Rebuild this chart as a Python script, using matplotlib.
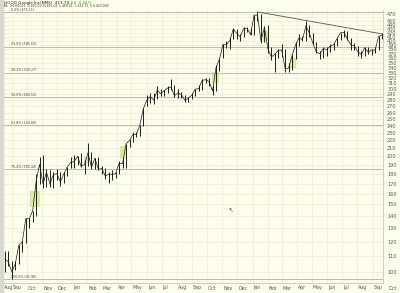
import matplotlib

matplotlib.use("Agg")
import matplotlib.pyplot as plt
import matplotlib.dates as mdates
import matplotlib.transforms as mtransforms
import pandas as pd

# weekly bars, GOOG Aug 2004 - Sep 2006 (week ending Friday)
week_end = pd.date_range("2004-08-20", "2006-09-22", freq="W-FRI")
highs = [
    113.5, 113.5, 107.0, 106.8, 117.5, 120.8, 138.0, 138.5, 144.5, 180.2,
    199.0, 201.6, 185.0, 184.0, 182.0, 185.0, 182.0, 182.0, 188.0, 199.0,
    201.6, 200.0, 204.0, 196.0, 216.8, 205.0, 198.5, 199.0, 189.0, 187.0,
    182.0, 184.0, 182.0, 194.0, 198.0, 216.0, 222.0, 231.0, 232.0, 242.0,
    266.5, 289.0, 292.0, 293.0, 304.0, 299.0, 298.0, 305.0, 317.8, 306.0,
    299.0, 294.0, 289.0, 285.0, 292.0, 300.0, 306.0, 317.0, 320.0, 320.0,
    306.0, 345.0, 361.0, 391.0, 398.0, 408.0, 431.0, 430.0, 416.0, 434.0,
    434.0, 432.0, 466.0, 475.1, 469.0, 436.0, 439.0, 385.0, 371.0, 380.0,
    391.0, 380.0, 350.0, 370.0, 396.0, 417.0, 412.0, 450.7, 440.0, 419.0,
    397.0, 377.0, 384.0, 386.0, 393.0, 395.0, 407.0, 420.0, 426.0, 425.0,
    406.0, 394.0, 388.0, 375.0, 384.0, 385.0, 381.0, 385.0, 411.0, 418.0,
]
lows = [
    99.8, 103.5, 95.96, 101.0, 105.0, 113.0, 119.0, 130.0, 135.0, 140.0,
    170.0, 166.0, 166.5, 167.0, 166.0, 174.0, 168.0, 171.0, 178.0, 187.0,
    187.0, 190.0, 188.0, 180.0, 189.0, 185.0, 186.0, 184.0, 180.0, 175.0,
    171.0, 174.0, 176.0, 180.0, 187.0, 186.5, 212.0, 218.0, 225.0, 226.0,
    240.0, 270.0, 276.0, 274.0, 282.0, 288.0, 287.0, 293.0, 298.0, 285.0,
    284.0, 283.0, 277.0, 277.0, 282.0, 287.0, 296.0, 298.0, 310.0, 304.0,
    289.0, 295.0, 334.0, 360.0, 382.0, 381.0, 404.0, 404.0, 400.0, 409.0,
    422.0, 413.0, 413.0, 451.0, 395.0, 397.0, 372.0, 356.0, 331.6, 360.0,
    362.0, 331.6, 331.0, 335.0, 359.0, 387.0, 400.0, 398.0, 410.0, 392.0,
    372.0, 358.0, 360.0, 365.0, 373.0, 378.0, 388.0, 402.0, 408.0, 402.0,
    378.0, 378.0, 365.0, 360.0, 364.0, 370.0, 368.0, 371.0, 378.0, 405.0,
]
closes = [
    108.3, 106.2, 100.0, 105.3, 117.5, 119.8, 137.7, 137.7, 144.1, 172.4,
    190.6, 169.4, 182.0, 169.4, 179.4, 180.4, 171.7, 180.0, 187.9, 192.8,
    193.9, 199.97, 188.3, 190.3, 204.4, 187.4, 197.95, 185.2, 185.9, 177.8,
    180.0, 179.3, 180.5, 192.1, 191.5, 215.8, 220.0, 228.0, 227.8, 241.6,
    266.0, 280.3, 286.3, 280.3, 297.3, 291.3, 296.2, 301.2, 302.4, 287.8,
    292.4, 289.7, 280.0, 283.6, 288.5, 299.1, 300.2, 315.4, 316.5, 313.0,
    296.1, 339.9, 358.2, 390.4, 390.4, 400.2, 428.6, 417.7, 409.2, 430.2,
    430.9, 414.9, 465.7, 466.3, 399.5, 433.5, 381.6, 362.6, 368.8, 377.4,
    378.2, 337.5, 339.8, 365.8, 390.0, 406.2, 402.2, 437.1, 417.9, 394.3,
    374.1, 370.0, 381.4, 379.4, 386.6, 390.7, 404.9, 419.3, 420.5, 403.5,
    390.1, 388.1, 373.9, 368.5, 383.4, 373.3, 378.6, 377.9, 409.9, 413.73,
]

# Fibonacci retracement between the swing low and high
fib_low, fib_high = 95.96, 475.11
fib_ratios = [0.0, 0.236, 0.382, 0.5, 0.618, 0.764, 1.0]

# trend line from the January high
trend_dates = ["2006-01-11", "2006-09-22"]
trend_prices = [475.11, 416.0]

# highlighted gaps: start, end, low, high
gap_start = ["2004-10-08", "2005-01-24", "2005-04-07", "2005-10-11", "2006-01-22", "2006-03-18"]
gap_end = ["2004-10-27", "2005-02-02", "2005-04-19", "2005-10-25", "2006-02-03", "2006-03-30"]
gap_low = [147.5, 192.0, 197.0, 310.0, 400.0, 340.0]
gap_high = [162.5, 199.5, 213.0, 331.0, 425.0, 361.0]

month_names = ["Aug", "Sep", "Oct", "Nov", "Dec", "Jan", "Feb", "Mar", "Apr",
               "May", "Jun", "Jul", "Aug", "Sep", "Oct", "Nov", "Dec", "Jan",
               "Feb", "Mar", "Apr", "May", "Jun", "Jul", "Aug", "Sep", "Oct"]
price_ticks = list(range(100, 480, 10))

BG = "#fdfdec"
GRID = "#efeed6"

fig = plt.figure(figsize=(4.0, 2.93), dpi=100)
fig.patch.set_facecolor(BG)
ax = fig.add_axes([3 / 400, 10 / 293, 380 / 400, 273 / 293])
ax.set_facecolor(BG)
# grey strip on the far left
fig.patches.append(plt.Rectangle((0, 0), 3 / 400, 1, transform=fig.transFigure,
                                 color="#d9d9d0", zorder=0))

x = week_end - pd.Timedelta(days=2)
ax.set_yscale("log")
ax.set_ylim(93.7, 480.6)
ax.set_xlim(pd.Timestamp("2004-08-14"), pd.Timestamp("2006-09-22"))

# grid
months = pd.date_range("2004-09-01", "2006-09-01", freq="MS")
for m in months:
    ax.axvline(m, color=GRID, lw=0.6, zorder=1)
for p in price_ticks:
    ax.axhline(p, color=GRID, lw=0.6, zorder=1)

# gap boxes
for s, e, lo, hi in zip(gap_start, gap_end, gap_low, gap_high):
    s, e = mdates.date2num(pd.Timestamp(s)), mdates.date2num(pd.Timestamp(e))
    ax.add_patch(plt.Rectangle((s, lo), e - s, hi - lo, facecolor="#d8eb9c",
                               edgecolor="none", zorder=2))

# fib lines, label sits just above each line
for r in fib_ratios:
    lvl = fib_high - r * (fib_high - fib_low)
    ax.axhline(lvl, color="#b0b0a6", lw=0.6, zorder=2)
    ax.text(mdates.date2num(pd.Timestamp("2004-08-30")), lvl * 1.002,
            f"{r * 100:.1f}% ({lvl:.2f})", fontsize=2.3, color="#444444",
            va="bottom", ha="left", zorder=5, clip_on=False)

# price bars
ax.vlines(x, lows, highs, color="#1e1e1e", lw=0.7, zorder=3)
ax.plot(x, closes, color="#1e1e1e", lw=0.5, zorder=3)

# trend line
ax.plot(pd.to_datetime(trend_dates), trend_prices, color="#555555", lw=0.6, zorder=4)

# axes styling
ax.yaxis.tick_right()
ax.set_yticks(price_ticks)
ax.set_yticklabels(["" if p == 460 else str(p) for p in price_ticks])
ax.yaxis.set_minor_locator(matplotlib.ticker.NullLocator())
ax.tick_params(axis="y", length=0, pad=3, labelsize=3.6, labelcolor="#555555")
ax.set_xticks([])
for sp in ax.spines.values():
    sp.set_color("#c8c8b8")
    sp.set_linewidth(0.6)
ax.spines["top"].set_visible(False)

# month labels along the bottom
trans = mtransforms.blended_transform_factory(ax.transData, fig.transFigure)
label_dates = [pd.Timestamp("2004-08-14")] + list(pd.date_range("2004-09-01", "2006-10-01", freq="MS"))
for d, name in zip(label_dates, month_names):
    ax.text(mdates.date2num(d) + 2, 5 / 293, name, transform=trans, fontsize=3.4,
            color="#555555", ha="left", va="center", clip_on=False)

# header
fig.text(4 / 400, 1 - 2.6 / 293, "GOOG Google Inc(NMS)  413.73", fontsize=3.0,
         color="#222222", va="center", ha="left")
fig.text(67 / 400, 1 - 2.6 / 293, "2.63  0.64%", fontsize=3.0, color="#22aa22",
         va="center", ha="left")
fig.text(4 / 400, 1 - 6.4 / 293,
         "Bk  9/19/2006  O 410.00  H 415.02  L 409.21  C 413.73  V 6,423,000",
         fontsize=2.2, color="#333333", va="center", ha="left")

# mouse pointer left on the chart
fig.text(231 / 400, 1 - 211 / 293, "\u2196", fontsize=4, color="#333333",
         ha="center", va="center")

fig.savefig("out.png", dpi=100, facecolor=fig.get_facecolor())
